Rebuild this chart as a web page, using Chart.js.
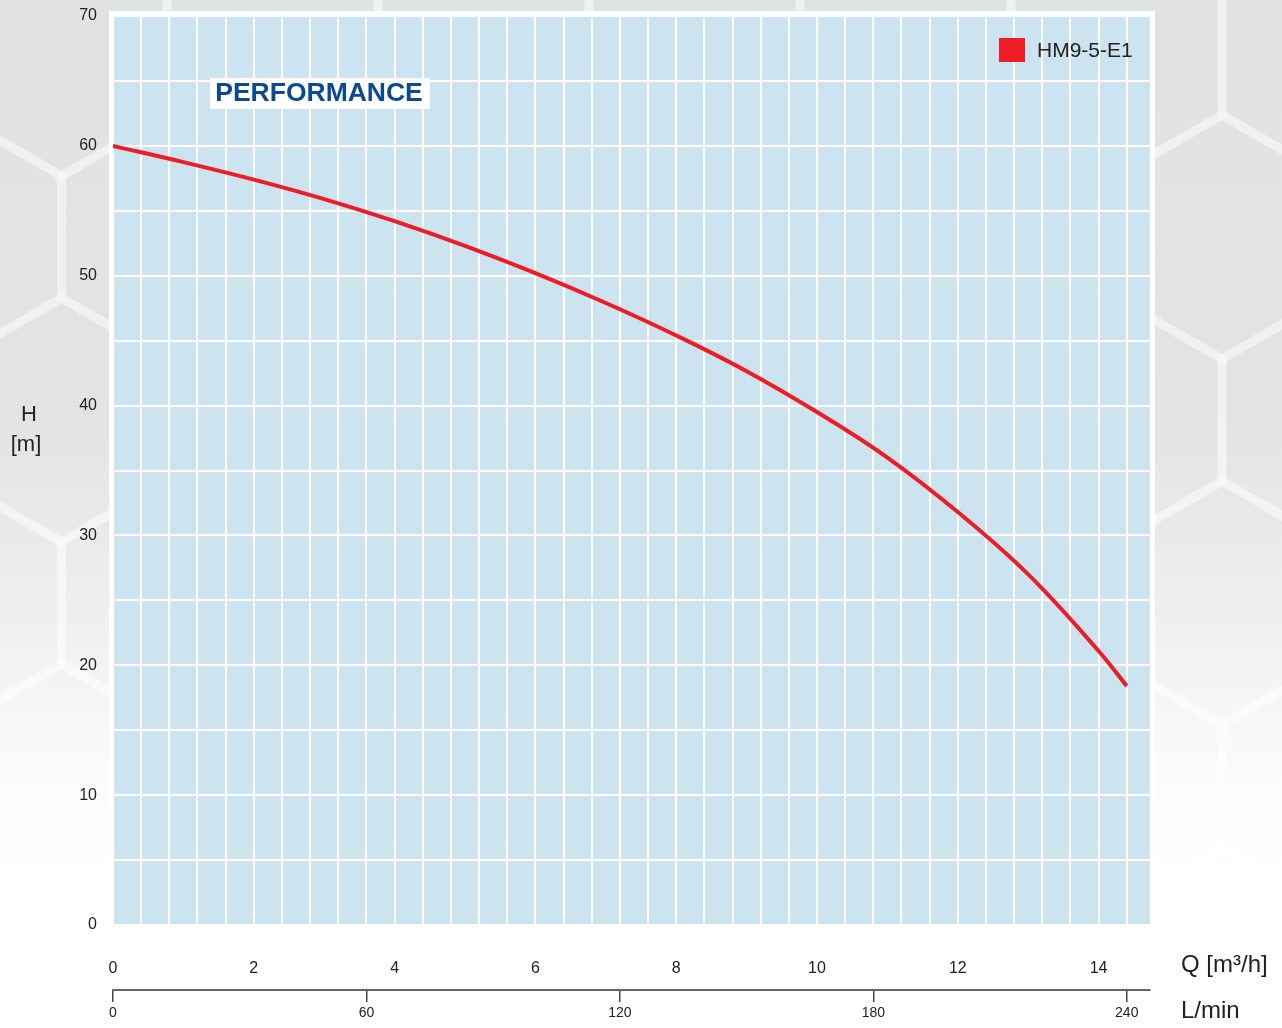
<!DOCTYPE html>
<html>
<head>
<meta charset="utf-8">
<title>HM9-5-E1 Performance</title>
<script src="https://cdn.jsdelivr.net/npm/chart.js@4/dist/chart.umd.min.js"></script>
<style>
  body {
    margin: 0;
    background: linear-gradient(to bottom, #e1e2e4 0%, #e2e3e5 40%, #eeeff0 60%, #fbfbfb 75%, #ffffff 85%);
  }
  #wrap { width: 1282px; height: 1028px; position: relative; }
</style>
</head>
<body>
<div id="wrap"><canvas id="perfChart"></canvas></div>
<script>
// Curve: flow Q [m3/h] -> head H [m]
const flowQ = [0, 1, 2, 3, 4, 5, 6, 7, 8, 9, 10, 11, 12, 13, 14, 14.4];
const headH = [60.0, 58.75, 57.4, 55.9, 54.2, 52.3, 50.2, 47.9, 45.4, 42.65, 39.5, 36.0, 31.8, 27.0, 21.1, 18.4];
const seriesName = "HM9-5-E1";

// Axis ranges / tick labels
const qMax = 14.73;               // right edge of plot in m3/h
const lminMax = qMax * 1000 / 60; // same edge in L/min
const qLabels = [0, 2, 4, 6, 8, 10, 12, 14];
const hLabels = [0, 10, 20, 30, 40, 50, 60, 70];

const RED = "#ee1c25";
const TEXT = "#222222";
const FONT = "'Liberation Sans', Arial, sans-serif";

// faint honeycomb in the page background
function drawHoneycomb(ctx) {
  const w = 211, s = 122;
  ctx.save();
  ctx.strokeStyle = "rgba(255,255,255,0.3)";
  ctx.lineWidth = 9;
  for (let j = -2; j <= 6; j++) {
    for (let i = -7; i <= 1; i++) {
      const cx = 1222 + i * w + (j % 2 ? w / 2 : 0);
      const cy = 237 + j * 1.5 * s;
      ctx.beginPath();
      for (let k = 0; k < 6; k++) {
        const ang = Math.PI / 2 + k * Math.PI / 3;
        const px = cx + s * Math.cos(ang), py = cy - s * Math.sin(ang);
        if (k === 0) ctx.moveTo(px, py); else ctx.lineTo(px, py);
      }
      ctx.closePath();
      ctx.stroke();
    }
  }
  ctx.restore();
}

// Background of plot + frame, and the extra texts
const decorations = {
  id: "decorations",
  beforeDraw(chart) {
    const { ctx, chartArea: a } = chart;
    drawHoneycomb(ctx);
    ctx.save();
    ctx.fillStyle = "#ffffff";
    ctx.fillRect(a.left - 4, a.top - 5, a.right - a.left + 9, a.bottom - a.top + 5);
    ctx.fillStyle = "#cbe4ef";
    ctx.fillRect(a.left, a.top, a.right - a.left, a.bottom - a.top);
    ctx.restore();
  },
  afterDraw(chart) {
    const { ctx, chartArea: a } = chart;
    ctx.save();
    ctx.textBaseline = "middle";

    // y title
    ctx.fillStyle = TEXT;
    ctx.font = "22px " + FONT;
    ctx.textAlign = "center";
    ctx.fillText("H", 29, 415);
    ctx.fillText("[m]", 26, 445);

    // x titles
    ctx.textAlign = "left";
    ctx.font = "24px " + FONT;
    ctx.fillText("Q [m³/h]", 1181, 965);
    ctx.fillText("L/min", 1181, 1011);

    // legend
    const ds = chart.data.datasets[0];
    ctx.fillStyle = ds.borderColor;
    ctx.fillRect(a.right - 151, a.top + 22, 26, 24);
    ctx.fillStyle = TEXT;
    ctx.font = "21px " + FONT;
    ctx.fillText(ds.label, a.right - 113, a.top + 35);

    // PERFORMANCE tag
    ctx.fillStyle = "#ffffff";
    ctx.fillRect(210, 78, 220, 31);
    ctx.fillStyle = "#0b4a92";
    ctx.font = "bold 26.5px " + FONT;
    ctx.textAlign = "center";
    ctx.fillText("PERFORMANCE", 319, 94);
    ctx.restore();
  }
};

function isMultiple(v, step) {
  return Math.abs(v / step - Math.round(v / step)) < 1e-6;
}

const ctx = document.getElementById("perfChart").getContext("2d");
new Chart(ctx, {
  type: "line",
  data: {
    datasets: [{
      label: seriesName,
      data: flowQ.map((q, i) => ({ x: q, y: headH[i] })),
      borderColor: RED,
      backgroundColor: RED,
      borderWidth: 4,
      pointRadius: 0,
      tension: 0.4,
      fill: false,
      xAxisID: "x",
      yAxisID: "y"
    }]
  },
  options: {
    responsive: true,
    maintainAspectRatio: false,
    animation: false,
    layout: { padding: { left: 0, right: 132, top: 16, bottom: 0 } },
    plugins: { legend: { display: false }, tooltip: { enabled: false } },
    scales: {
      x: {
        type: "linear",
        position: "bottom",
        weight: 0,
        min: 0,
        max: qMax,
        border: { display: false },
        grid: { color: "#ffffff", lineWidth: 2, drawTicks: false },
        ticks: {
          stepSize: 0.4,
          includeBounds: false,
          autoSkip: false,
          maxRotation: 0,
          padding: 34,
          color: TEXT,
          font: { family: FONT, size: 16 },
          callback: (v) => qLabels.some((l) => isMultiple(v - l, 100)) ? v : ""
        },
        afterFit: (s) => { s.height = 65; s.paddingTop = 0; }
      },
      x2: {
        type: "linear",
        position: "bottom",
        weight: 1,
        min: 0,
        max: lminMax,
        border: { display: true, color: "#666666", width: 2 },
        grid: { drawOnChartArea: false, drawTicks: true, tickLength: 12, color: "#444444", lineWidth: 1.5 },
        ticks: {
          stepSize: 60,
          includeBounds: false,
          autoSkip: false,
          maxRotation: 0,
          padding: 3,
          color: TEXT,
          font: { family: FONT, size: 14 }
        },
        afterFit: (s) => { s.height = 38; s.paddingTop = 0; }
      },
      y: {
        type: "linear",
        min: 0,
        max: 70,
        border: { display: false },
        grid: { color: "#ffffff", lineWidth: 2, drawTicks: false },
        ticks: {
          stepSize: 5,
          autoSkip: false,
          padding: 16,
          color: TEXT,
          font: { family: FONT, size: 16 },
          callback: (v) => hLabels.includes(v) ? v : ""
        },
        afterFit: (s) => { s.width = 113; s.paddingTop = 0; s.paddingBottom = 0; }
      }
    }
  },
  plugins: [decorations]
});
</script>
</body>
</html>
